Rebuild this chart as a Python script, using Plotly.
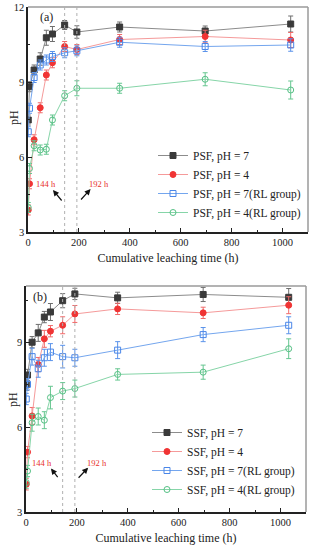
import plotly.graph_objects as go

# ---------------- data ----------------
time_a = [1, 6, 24, 48, 72, 96, 144, 192, 360, 696, 1032]
psf_ph7 = [7.48, 8.81, 9.48, 9.92, 10.77, 10.92, 11.28, 11.0, 11.2, 11.04, 11.32]
psf_ph7_err = [0.2, 0.2, 0.2, 0.25, 0.3, 0.3, 0.18, 0.25, 0.2, 0.2, 0.32]
psf_ph4 = [3.88, 4.93, 6.69, 7.97, 9.28, 9.77, 10.42, 10.30, 10.70, 10.82, 10.68]
psf_ph4_err = [0.2, 0.2, 0.2, 0.2, 0.2, 0.2, 0.2, 0.2, 0.2, 0.25, 0.3]
psf_ph7_rl = [7.01, 7.95, 9.18, 9.68, 9.88, 10.02, 10.17, 10.25, 10.59, 10.42, 10.48]
psf_ph7_rl_err = [0.2, 0.2, 0.2, 0.2, 0.2, 0.2, 0.2, 0.2, 0.2, 0.2, 0.25]
psf_ph4_rl = [3.98, 5.54, 6.45, 6.28, 6.31, 7.48, 8.45, 8.75, 8.75, 9.11, 8.68]
psf_ph4_rl_err = [0.2, 0.2, 0.2, 0.2, 0.2, 0.2, 0.2, 0.3, 0.2, 0.26, 0.36]

time_b = [1, 6, 24, 48, 72, 96, 144, 192, 360, 696, 1032]
ssf_ph7 = [7.5, 7.85, 9.01, 9.34, 9.9, 10.08, 10.48, 10.72, 10.58, 10.70, 10.6]
ssf_ph7_err = [0.2, 0.2, 0.2, 0.3, 0.2, 0.3, 0.25, 0.2, 0.2, 0.25, 0.31]
ssf_ph4 = [3.98, 5.12, 6.4, 8.22, 9.13, 9.4, 9.61, 10.01, 10.19, 10.05, 10.32]
ssf_ph4_err = [0.2, 0.2, 0.3, 0.25, 0.3, 0.2, 0.3, 0.3, 0.2, 0.2, 0.3]
ssf_ph7_rl = [7.0, 7.52, 8.5, 8.07, 8.46, 8.66, 8.5, 8.46, 8.73, 9.28, 9.61]
ssf_ph7_rl_err = [0.2, 0.2, 0.3, 0.3, 0.3, 0.3, 0.4, 0.3, 0.3, 0.25, 0.3]
ssf_ph4_rl = [4.04, 4.45, 6.16, 6.38, 6.25, 7.05, 7.28, 7.37, 7.87, 7.95, 8.78]
ssf_ph4_rl_err = [0.2, 0.2, 0.3, 0.3, 0.3, 0.4, 0.3, 0.3, 0.2, 0.25, 0.35]

marks = [144, 192]
x_ticks = [0, 200, 400, 600, 800, 1000]

FONT = "Liberation Serif"

styles = [
    dict(sym="square", fill="#3a3a3a", edge="#3a3a3a", line="#8c8c8c", err="#6e6e6e"),
    dict(sym="circle", fill="#f03434", edge="#f03434", line="#f59a9a", err="#f06a6a"),
    dict(sym="square-open", fill="#4a86e8", edge="#4a86e8", line="#74a6ee", err="#5b93ea"),
    dict(sym="circle-open", fill="#55c084", edge="#55c084", line="#86d5a8", err="#66c690"),
]

fig = go.Figure()

panel_a = [
    ("PSF, pH = 7", psf_ph7, psf_ph7_err),
    ("PSF, pH = 4", psf_ph4, psf_ph4_err),
    ("PSF, pH = 7(RL group)", psf_ph7_rl, psf_ph7_rl_err),
    ("PSF, pH = 4(RL group)", psf_ph4_rl, psf_ph4_rl_err),
]
panel_b = [
    ("SSF, pH = 7", ssf_ph7, ssf_ph7_err),
    ("SSF, pH = 4", ssf_ph4, ssf_ph4_err),
    ("SSF, pH = 7(RL group)", ssf_ph7_rl, ssf_ph7_rl_err),
    ("SSF, pH = 4(RL group)", ssf_ph4_rl, ssf_ph4_rl_err),
]

for (name, ys, es), st in zip(panel_a, styles):
    fig.add_trace(go.Scatter(
        x=time_a, y=ys, name=name, mode="lines+markers",
        line=dict(color=st["line"], width=1),
        marker=dict(symbol=st["sym"], size=6, color=st["fill"],
                    line=dict(color=st["edge"], width=1)),
        error_y=dict(type="data", array=es, color=st["err"], thickness=1, width=2.5),
        xaxis="x", yaxis="y", legend="legend"))

for (name, ys, es), st in zip(panel_b, styles):
    fig.add_trace(go.Scatter(
        x=time_b, y=ys, name=name, mode="lines+markers",
        line=dict(color=st["line"], width=1),
        marker=dict(symbol=st["sym"], size=6, color=st["fill"],
                    line=dict(color=st["edge"], width=1)),
        error_y=dict(type="data", array=es, color=st["err"], thickness=1, width=2.5),
        xaxis="x2", yaxis="y2", legend="legend2"))

W, H = 312, 550
dom_xa = [28 / W, 308 / W]
dom_ya = [1 - 232 / H, 1 - 7 / H]
dom_xb = [26 / W, 306 / W]
dom_yb = [1 - 512 / H, 1 - 286 / H]

def xaxis(dom, anchor):
    return dict(domain=dom, anchor=anchor, range=[0, 1100], tickvals=x_ticks,
                automargin=False,
                ticks="inside", ticklen=4, tickwidth=1, tickcolor="#222",
                minor=dict(dtick=100, ticks="inside", ticklen=2.5, tickcolor="#222", tick0=0),
                showline=True, linecolor="#222", linewidth=1.5, showgrid=False, zeroline=False,
                tickfont=dict(family=FONT, size=10.5, color="#222"),
                title=dict(text="Cumulative leaching time (h)", standoff=6,
                           font=dict(family=FONT, size=12, color="#222")))

def yaxis(dom, anchor, rng):
    return dict(domain=dom, anchor=anchor, range=rng, tickvals=[3, 6, 9, 12],
                automargin=False,
                ticks="inside", ticklen=4, tickwidth=1, tickcolor="#222",
                minor=dict(tickvals=[4.5, 7.5, 10.5], ticks="inside", ticklen=2.5, tickcolor="#222"),
                showline=True, linecolor="#222", linewidth=1.5, showgrid=False, zeroline=False,
                tickfont=dict(family=FONT, size=10.5, color="#222"))

fig.update_layout(
    width=W, height=H, margin=dict(l=0, r=0, t=0, b=0, autoexpand=False),
    paper_bgcolor="white", plot_bgcolor="white",
    font=dict(family=FONT, color="#222"),
    xaxis=xaxis(dom_xa, "y"), yaxis=yaxis(dom_ya, "x", [3, 12]),
    xaxis2=xaxis(dom_xb, "y2"), yaxis2=yaxis(dom_yb, "x2", [3, 11]),
    legend=dict(x=153 / W, y=1 - 141 / H, xanchor="left", yanchor="top",
                bgcolor="rgba(0,0,0,0)", itemwidth=30, tracegroupgap=0,
                font=dict(family=FONT, size=11.5, color="#222")),
    legend2=dict(x=147 / W, y=1 - 418 / H, xanchor="left", yanchor="top",
                 bgcolor="rgba(0,0,0,0)", itemwidth=30, tracegroupgap=0,
                 font=dict(family=FONT, size=11.5, color="#222")),
    showlegend=True,
)

# y-axis titles
fig.add_annotation(text="pH", x=14 / W, y=1 - 118 / H, xref="paper", yref="paper",
                   xanchor="center", yanchor="middle",
                   textangle=-90, showarrow=False, font=dict(family=FONT, size=12, color="#222"))
fig.add_annotation(text="pH", x=13 / W, y=1 - 400 / H, xref="paper", yref="paper",
                   xanchor="center", yanchor="middle",
                   textangle=-90, showarrow=False, font=dict(family=FONT, size=12, color="#222"))

# top/right frame (lighter grey) and dotted marker lines
for xr, yr in [("x", "y"), ("x2", "y2")]:
    fig.add_shape(type="line", xref=f"{xr} domain", yref=f"{yr} domain",
                  x0=0, x1=1, y0=1, y1=1, line=dict(color="#9a9a9a", width=1.5))
    fig.add_shape(type="line", xref=f"{xr} domain", yref=f"{yr} domain",
                  x0=1, x1=1, y0=0, y1=1, line=dict(color="#9a9a9a", width=1.5))
    for m in marks:
        fig.add_shape(type="line", xref=xr, yref=f"{yr} domain",
                      x0=m, x1=m, y0=0, y1=1, line=dict(color="#b0b0b0", width=1, dash="dot"))

# panel labels
fig.add_annotation(text="(a)", x=46 / W, y=1 - 17 / H, xref="paper", yref="paper",
                   xanchor="center", yanchor="middle",
                   showarrow=False, font=dict(family=FONT, size=12, color="#222"))
fig.add_annotation(text="(b)", x=40 / W, y=1 - 297 / H, xref="paper", yref="paper",
                   xanchor="center", yanchor="middle",
                   showarrow=False, font=dict(family=FONT, size=12, color="#222"))

# 144 h / 192 h annotations
ann = [
    ("x", "y", 70, 4.92, "144 h", 98, 4.68, 137, 4.2),
    ("x", "y", 280, 4.92, "192 h", 246, 4.72, 203, 4.24),
    ("x2", "y2", 63, 4.75, "144 h", 98, 4.54, 129, 4.18),
    ("x2", "y2", 277, 4.75, "192 h", 244, 4.57, 201, 4.16),
]
for xr, yr, tx, ty, txt, hx, hy, tlx, tly in ann:
    fig.add_annotation(text=txt, x=tx, y=ty, xref=xr, yref=yr, showarrow=False,
                       xanchor="center", yanchor="middle",
                       font=dict(family=FONT, size=8.5, color="#e8302c"))
    fig.add_annotation(text="", x=hx, y=hy, xref=xr, yref=yr, ax=tlx, ay=tly,
                       axref=xr, ayref=yr, showarrow=True, arrowhead=2, arrowsize=1,
                       arrowwidth=1.2, arrowcolor="#111")

fig.write_html("out.html", config={"displayModeBar": False},
               post_script="document.body.style.margin='0';document.body.style.padding='0';")
